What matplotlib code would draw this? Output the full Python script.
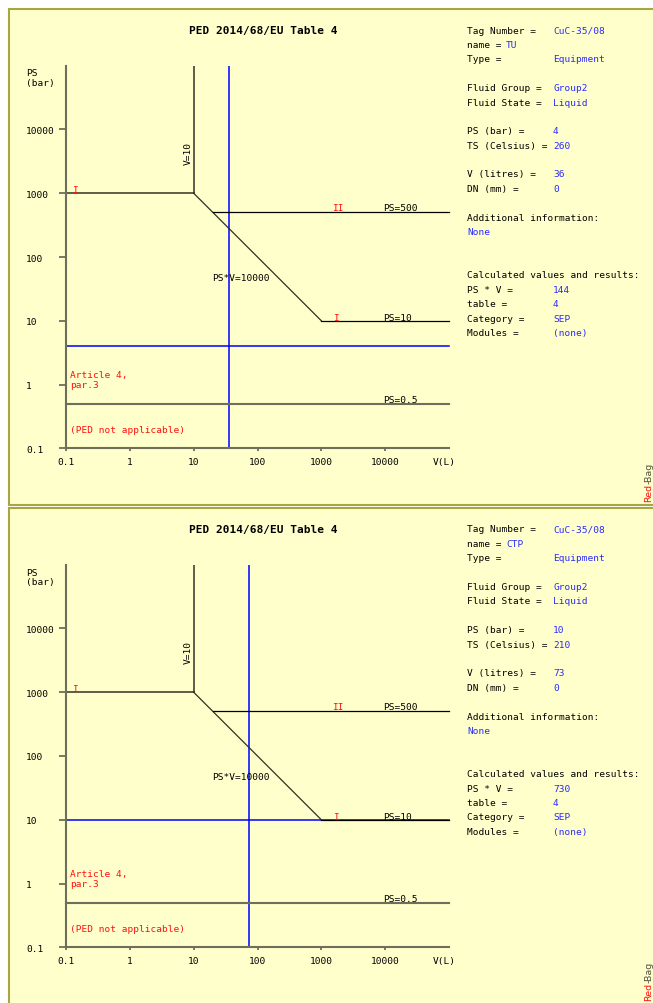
import matplotlib
matplotlib.use("Agg")
import matplotlib.pyplot as plt
from matplotlib.patches import Rectangle
from matplotlib import transforms

# ---------------- data ----------------
tick_values = [0.1, 1, 10, 100, 1000, 10000]
tick_labels = ["0.1", "1", "10", "100", "1000", "10000"]
V_MIN, V_MAX = 0.1, 1e5
PS_MIN, PS_MAX = 0.1, 1e5
V_BOUND = 10          # V=10 vertical boundary
PS_TOP = 1000         # PS=1000 horizontal boundary
PS_BEND_LOW = 10      # end of PS*V=10000 line
V_BEND_LOW = 1000
PS_II = 500           # PS=500 line
V_II_START = 20
PS_LOW = 10           # PS=10 line
PS_ART4 = 0.5         # PS=0.5 line

tag_numbers = ["CuC-35/08", "CuC-35/08"]
names = ["TU", "CTP"]
types = ["Equipment", "Equipment"]
fluid_groups = ["Group2", "Group2"]
fluid_states = ["Liquid", "Liquid"]
ps_values = [4, 10]
ts_values = [260, 210]
v_values = [36, 73]
dn_values = [0, 0]
additional = ["None", "None"]
psv_values = [144, 730]
tables = [4, 4]
categories = ["SEP", "SEP"]
modules = ["(none)", "(none)"]

# ---------------- style ----------------
W, H = 653, 1004
BG = "#ffffcc"
BORDER = "#a8a640"
AXC = "#6e6e5c"
LINEC = "#303024"
BLUE = "#0000ff"
TBLUE = "#2a2aff"
RED = "#ff1010"
MONO = "DejaVu Sans Mono"
FS = 6.8

fig = plt.figure(figsize=(W / 100, H / 100), dpi=100)
fig.patch.set_facecolor("white")


def fx(px):
    return px / W


def fy(py):
    return 1 - py / H


panel_offsets = [0, 499]

for i, off in enumerate(panel_offsets):
    # panel background
    top = 10 + off if i == 0 else 509
    bottom = 505.7 if i == 0 else 1030
    fig.add_artist(Rectangle((fx(9), fy(bottom)), fx(720 - 9), (bottom - top) / H,
                             transform=fig.transFigure, facecolor=BG,
                             edgecolor=BORDER, linewidth=1.5, zorder=-5))

    ax = fig.add_axes([fx(66), fy(449.3 + off), 383 / W, 382.6 / H])
    ax.set_facecolor("none")
    ax.set_xscale("log")
    ax.set_yscale("log")
    ax.set_xlim(V_MIN, V_MAX)
    ax.set_ylim(PS_MIN, PS_MAX)
    ax.minorticks_off()
    for s in ["top", "right"]:
        ax.spines[s].set_visible(False)
    for s in ["left", "bottom"]:
        ax.spines[s].set_color(AXC)
        ax.spines[s].set_linewidth(1.5)
    ax.set_xticks(tick_values)
    ax.set_yticks(tick_values)
    ax.tick_params(axis="y", length=5, width=1.3, color=AXC, labelleft=False)
    ax.tick_params(axis="x", length=2.2, width=1.3, color=AXC, labelbottom=False)

    # tick labels
    ytr = transforms.offset_copy(
        transforms.blended_transform_factory(fig.transFigure, ax.transData),
        fig=fig, y=-3.5, units="dots")
    for v, lab in zip(tick_values, tick_labels):
        ax.text(fx(26), v, lab, transform=ytr, ha="left", va="baseline",
                family=MONO, fontsize=FS, color="black")
    xtr = transforms.offset_copy(
        transforms.blended_transform_factory(ax.transData, ax.transAxes),
        fig=fig, y=-16, units="dots")
    for v, lab in zip(tick_values, tick_labels):
        ax.text(v, 0, lab, transform=xtr, ha="center", va="baseline",
                family=MONO, fontsize=FS, color="black")
    ax.text((433 - 66) / 383, 0, "V(L)", transform=transforms.offset_copy(
        ax.transAxes, fig=fig, y=-16, units="dots"),
        ha="left", va="baseline", family=MONO, fontsize=FS)

    # this equipment (drawn beneath the category lines)
    ax.axvline(v_values[i], color=BLUE, lw=1.1, zorder=1.5)
    ax.axhline(ps_values[i], color=BLUE, lw=1.1, clip_on=False, zorder=1.5)

    # category boundary lines
    ax.plot([V_BOUND, V_BOUND], [PS_TOP, PS_MAX], color=LINEC, lw=1.1, zorder=2)
    ax.plot([V_MIN, V_BOUND], [PS_TOP, PS_TOP], color=LINEC, lw=1.1, zorder=2)
    ax.plot([V_BOUND, V_BEND_LOW], [PS_TOP, PS_BEND_LOW], color=LINEC, lw=0.9, zorder=2)
    ax.plot([V_II_START, V_MAX], [PS_II, PS_II], color="black", lw=0.9,
            clip_on=False, zorder=2)
    ax.plot([V_BEND_LOW, V_MAX], [PS_LOW, PS_LOW], color="black", lw=0.9,
            clip_on=False, zorder=2)
    ax.plot([V_MIN, V_MAX], [PS_ART4, PS_ART4], color=AXC, lw=1.5,
            clip_on=False, zorder=2)

    def lbl(x, y, s, color="black", dy=0):
        tr = transforms.offset_copy(ax.transData, fig=fig, y=dy, units="dots")
        ax.text(x, y, s, transform=tr, ha="left", va="baseline", family=MONO,
                fontsize=FS, color=color)

    lbl(0.125, PS_TOP, "I", RED, dy=1)
    lbl(1470, PS_II, "II", RED, dy=2)
    lbl(9200, PS_II, "PS=500", dy=2)
    lbl(19.5, 44, "PS*V=10000")
    lbl(1520, PS_LOW, "I", RED, dy=1)
    lbl(9200, PS_LOW, "PS=10", dy=1)
    lbl(9200, PS_ART4, "PS=0.5", dy=1.5)
    lbl(0.1155, 1.29, "Article 4,", RED)
    lbl(0.1155, 1.29, "par.3", RED, dy=-10)
    lbl(0.1155, 0.177, "(PED not applicable)", RED)
    vtr = transforms.offset_copy(ax.transData, fig=fig, x=-1, units="dots")
    ax.text(V_BOUND, 4400, "V=10", transform=vtr, rotation=90, ha="right",
            va="center", family=MONO, fontsize=FS)

    # title and axis name
    fig.text(fx(263), fy(34 + off), "PED 2014/68/EU Table 4", ha="center",
             va="baseline", family=MONO, fontsize=8, fontweight="bold")
    fig.text(fx(26), fy(76.5 + off), "PS", ha="left", va="baseline",
             family=MONO, fontsize=FS)
    fig.text(fx(26), fy(86 + off), "(bar)", ha="left", va="baseline",
             family=MONO, fontsize=FS)

    # info panel
    rows = [
        (0, "Tag Number =", tag_numbers[i]),
        (2, "Type =", types[i]),
        (4, "Fluid Group =", fluid_groups[i]),
        (5, "Fluid State =", fluid_states[i]),
        (7, "PS (bar) =", str(ps_values[i])),
        (8, "TS (Celsius) =", str(ts_values[i])),
        (10, "V (litres) =", str(v_values[i])),
        (11, "DN (mm) =", str(dn_values[i])),
        (13, "Additional information:", None),
        (17, "Calculated values and results:", None),
        (18, "PS * V =", str(psv_values[i])),
        (19, "table =", str(tables[i])),
        (20, "Category =", categories[i]),
        (21, "Modules =", modules[i]),
    ]
    for k, label, val in rows:
        yb = fy(33.5 + 14.4 * k + off)
        fig.text(fx(467), yb, label, ha="left", va="baseline", family=MONO,
                 fontsize=FS, color="black")
        if val is not None:
            fig.text(fx(553), yb, val, ha="left", va="baseline", family=MONO,
                     fontsize=FS, color=TBLUE)
    yb = fy(33.5 + 14.4 * 1 + off)
    fig.text(fx(467), yb, "name =", ha="left", va="baseline", family=MONO,
             fontsize=FS, color="black")
    fig.text(fx(506), yb, names[i], ha="left", va="baseline", family=MONO,
             fontsize=FS, color=TBLUE)
    fig.text(fx(467), fy(33.5 + 14.4 * 14 + off), additional[i], ha="left",
             va="baseline", family=MONO, fontsize=FS, color=TBLUE)

    # Red-Bag mark
    t1 = fig.text(fx(653.5), fy(502 + off), "Red", rotation=90, ha="right",
                  va="bottom", fontsize=6.8, color=RED, family="DejaVu Sans")
    r = fig.canvas.get_renderer()
    bb = t1.get_window_extent(r)
    fig.text(fx(653.5), bb.y1 / H, "-Bag", rotation=90, ha="right",
             va="bottom", fontsize=6.8, color="#505040", family="DejaVu Sans")

fig.savefig("out.png", dpi=100, facecolor=fig.get_facecolor())
